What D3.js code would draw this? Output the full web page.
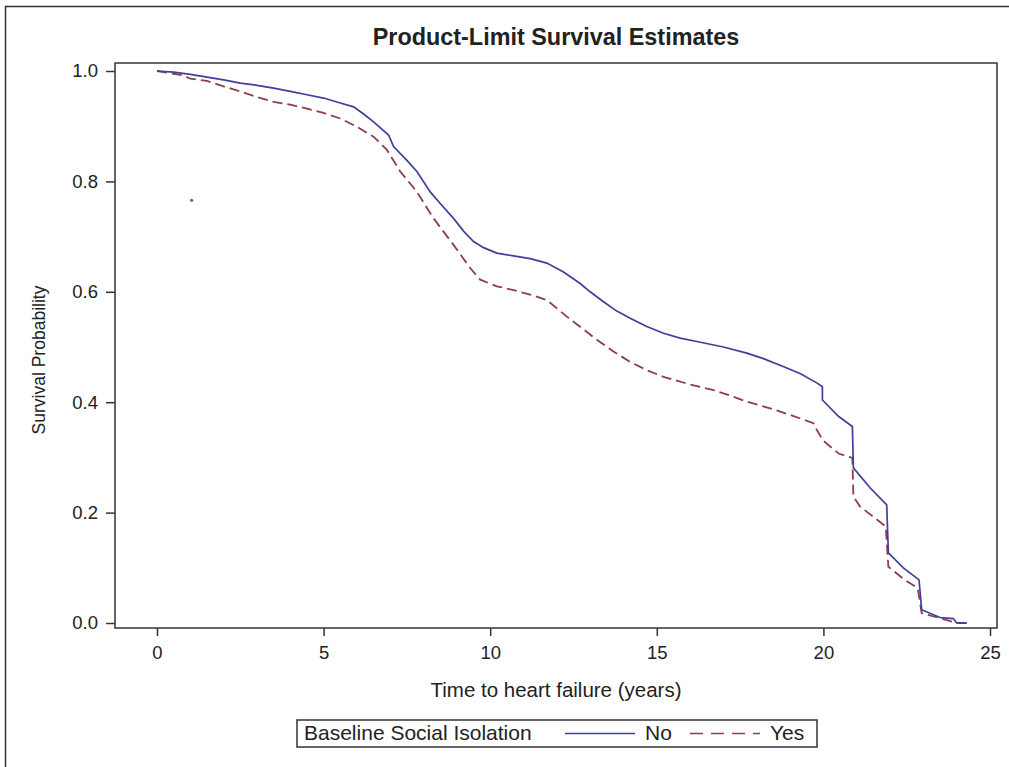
<!DOCTYPE html>
<html>
<head>
<meta charset="utf-8">
<script src="https://cdn.jsdelivr.net/npm/d3@7"></script>
<style>
  body { margin: 0; background: #fff; }
  text { font-family: 'Liberation Sans', Arial, sans-serif; fill: #222; }
</style>
</head>
<body>
<div id="container"></div>
<script>
const w = 1009,
  h = 767;

// Kaplan-Meier estimates: time (years) and survival
const timeNo = [0, 0.5, 1, 1.5, 2, 2.5, 3, 3.5, 4, 4.5, 5, 5.5, 5.9, 6.2, 6.5, 6.95, 7.1, 7.5, 7.8, 8.2, 8.5, 8.9, 9.2, 9.5, 9.8, 10.2, 10.7, 11.2, 11.7, 12.2, 12.7, 13, 13.4, 13.8, 14.2, 14.7, 15.2, 15.7, 16.2, 17, 17.7, 18.2, 18.7, 19.3, 19.8, 19.97, 19.97, 20.46, 20.87, 20.9, 21.4, 21.9, 21.95, 22.4, 22.87, 22.95, 23.5, 23.9, 24, 24.3];
const survNo = [1, 0.998, 0.994, 0.989, 0.984, 0.978, 0.974, 0.969, 0.963, 0.957, 0.951, 0.942, 0.935, 0.922, 0.908, 0.884, 0.863, 0.838, 0.818, 0.781, 0.76, 0.733, 0.71, 0.691, 0.68, 0.67, 0.665, 0.66, 0.652, 0.636, 0.615, 0.6, 0.582, 0.565, 0.552, 0.537, 0.525, 0.516, 0.51, 0.5, 0.489, 0.479, 0.467, 0.452, 0.435, 0.428, 0.404, 0.374, 0.356, 0.281, 0.245, 0.214, 0.127, 0.1, 0.078, 0.024, 0.01, 0.008, 0, 0];

const timeYes = [0, 0.5, 0.79, 1, 1.5, 2, 2.5, 3, 3.5, 4, 4.5, 5, 5.5, 6, 6.5, 6.9, 7.3, 7.8, 8.3, 8.9, 9.4, 9.7, 10.2, 10.7, 11.2, 11.7, 12.3, 12.8, 13.2, 13.7, 14.2, 14.7, 15.2, 16, 16.7, 17.2, 17.7, 18.4, 19, 19.7, 19.8, 20, 20.46, 20.87, 20.9, 21.1, 21.87, 21.95, 22.4, 22.83, 22.95, 23.6, 24, 24.3];
const survYes = [1, 0.995, 0.992, 0.986, 0.982, 0.972, 0.963, 0.953, 0.944, 0.939, 0.932, 0.924, 0.914, 0.899, 0.881, 0.857, 0.818, 0.781, 0.733, 0.685, 0.643, 0.622, 0.61, 0.603, 0.595, 0.585, 0.555, 0.532, 0.513, 0.492, 0.473, 0.458, 0.446, 0.432, 0.422, 0.412, 0.401, 0.389, 0.377, 0.362, 0.35, 0.33, 0.307, 0.299, 0.229, 0.211, 0.175, 0.102, 0.08, 0.063, 0.018, 0.007, 0, 0];

const censorMark = [1.04, 0.766];

const xTicks = [0, 5, 10, 15, 20, 25];
const yTicks = [0, 0.2, 0.4, 0.6, 0.8, 1.0];
const groups = ['No', 'Yes'];
const colors = ['#3f3f9c', '#8e3d50'];

const frame = { left: 115, right: 997, top: 63, bottom: 628 };

const svg = d3
  .select('#container')
  .append('svg')
  .attr('width', w)
  .attr('height', h);

// outer border of the figure
svg
  .append('rect')
  .attr('x', 5.5)
  .attr('y', 6.5)
  .attr('width', w + 10)
  .attr('height', h + 10)
  .attr('fill', 'none')
  .attr('stroke', '#333')
  .attr('stroke-width', 1.5);

svg
  .append('text')
  .text('Product-Limit Survival Estimates')
  .attr('x', (frame.left + frame.right) / 2)
  .attr('y', 45)
  .attr('text-anchor', 'middle')
  .style('font-weight', 'bold')
  .style('font-size', '23.4px');

const xScale = d3.scaleLinear().domain([0, 25]).range([157, 990]);
const yScale = d3.scaleLinear().domain([0, 1]).range([623, 71]);

const xAxis = d3
  .axisBottom(xScale)
  .tickValues(xTicks)
  .tickSizeOuter(0)
  .tickSize(8)
  .tickPadding(10)
  .tickFormat(d3.format('d'));

const yAxis = d3
  .axisLeft(yScale)
  .tickValues(yTicks)
  .tickSizeOuter(0)
  .tickSize(9)
  .tickPadding(8)
  .tickFormat(d3.format('.1f'));

const gx = svg
  .append('g')
  .attr('transform', 'translate(0, ' + frame.bottom + ')')
  .call(xAxis);

const gy = svg
  .append('g')
  .attr('transform', 'translate(' + frame.left + ', 0)')
  .call(yAxis);

[gx, gy].forEach((g) => {
  g.select('.domain').remove();
  g.selectAll('.tick line').attr('stroke', '#333').attr('stroke-width', 1.5);
  g.selectAll('.tick text')
    .style('font-family', "'Liberation Sans', Arial, sans-serif")
    .style('font-size', '18.5px')
    .attr('fill', '#222');
});

svg
  .append('text')
  .text('Time to heart failure (years)')
  .attr('x', (frame.left + frame.right) / 2)
  .attr('y', 697)
  .attr('text-anchor', 'middle')
  .style('font-size', '20.5px');

svg
  .append('text')
  .text('Survival Probability')
  .attr('transform', 'translate(45, 360) rotate(-90)')
  .attr('text-anchor', 'middle')
  .style('font-size', '17.5px');

const line = d3
  .line()
  .x((d) => xScale(d[0]))
  .y((d) => yScale(d[1]));

const series = [d3.zip(timeNo, survNo), d3.zip(timeYes, survYes)];

// draw Yes first so the solid No curve sits on top
svg
  .append('path')
  .datum(series[1])
  .attr('d', line)
  .attr('fill', 'none')
  .attr('stroke', colors[1])
  .attr('stroke-width', 1.8)
  .attr('stroke-dasharray', '10,5');

svg
  .append('path')
  .datum(series[0])
  .attr('d', line)
  .attr('fill', 'none')
  .attr('stroke', colors[0])
  .attr('stroke-width', 1.7);

svg
  .append('circle')
  .attr('cx', xScale(censorMark[0]))
  .attr('cy', yScale(censorMark[1]))
  .attr('r', 1.5)
  .attr('fill', '#5a6078');

svg
  .append('rect')
  .attr('x', frame.left)
  .attr('y', frame.top)
  .attr('width', frame.right - frame.left)
  .attr('height', frame.bottom - frame.top)
  .attr('fill', 'none')
  .attr('stroke', '#333')
  .attr('stroke-width', 1.5);

// legend
const legend = svg.append('g').attr('transform', 'translate(297, 720)');

legend
  .append('rect')
  .attr('width', 520)
  .attr('height', 27)
  .attr('fill', 'none')
  .attr('stroke', '#333')
  .attr('stroke-width', 1.5);

legend
  .append('text')
  .text('Baseline Social Isolation')
  .attr('x', 7)
  .attr('y', 20)
  .style('font-size', '21px');

const itemX = [268, 393];

legend
  .selectAll('.item')
  .data(groups)
  .enter()
  .append('line')
  .attr('x1', (d, i) => itemX[i])
  .attr('x2', (d, i) => itemX[i] + 70)
  .attr('y1', 13.5)
  .attr('y2', 13.5)
  .attr('stroke', (d, i) => colors[i])
  .attr('stroke-width', 1.7)
  .attr('stroke-dasharray', (d, i) => (i === 1 ? '13,8' : null));

legend
  .selectAll('.label')
  .data(groups)
  .enter()
  .append('text')
  .text((d) => d)
  .attr('x', (d, i) => itemX[i] + 80)
  .attr('y', 20)
  .style('font-size', '21px');
</script>
</body>
</html>
